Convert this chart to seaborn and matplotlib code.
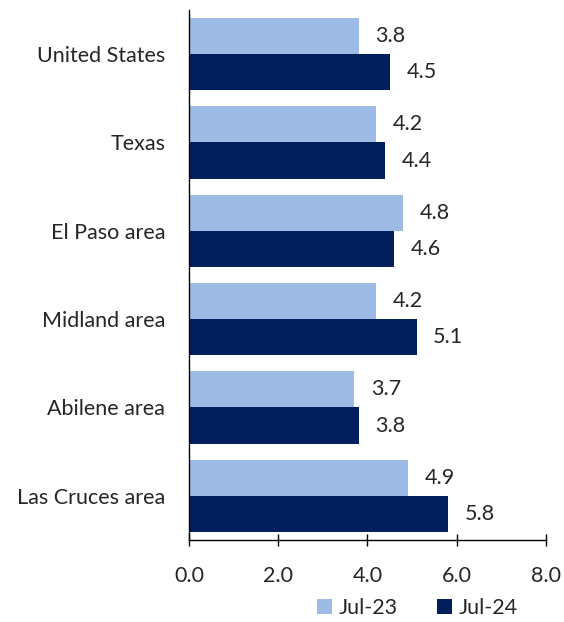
import pandas as pd
import matplotlib
matplotlib.use("Agg")
import matplotlib.pyplot as plt
import seaborn as sns

# data
regions = ["United States", "Texas", "El Paso area", "Midland area",
           "Abilene area", "Las Cruces area"]
jul23 = [3.8, 4.2, 4.8, 4.2, 3.7, 4.9]
jul24 = [4.5, 4.4, 4.6, 5.1, 3.8, 5.8]
periods = ["Jul-23", "Jul-24"]
colors = ["#9DBBE5", "#001F5C"]

df = pd.DataFrame({
    "Region": regions * 2,
    "Rate": jul23 + jul24,
    "Period": [periods[0]] * len(regions) + [periods[1]] * len(regions),
})

sns.set_style("white")
plt.rcParams["font.family"] = ["Lato", "DejaVu Sans"]
fs = 15.5

fig = plt.figure(figsize=(5.64, 6.22), dpi=100)
ax = fig.add_axes([0.335, 0.132, 0.633, 0.852])

sns.barplot(data=df, y="Region", x="Rate", hue="Period", order=regions,
            hue_order=periods, palette=colors, width=0.82, orient="h",
            saturation=1, linewidth=0, ax=ax)

for c in ax.containers:
    ax.bar_label(c, fmt="%.1f", padding=12, fontsize=fs)

ax.set_xlim(0, 8)
ax.set_xticks([0, 2, 4, 6, 8])
ax.set_xticklabels(["0.0", "2.0", "4.0", "6.0", "8.0"])
ax.set_xlabel("")
ax.set_ylabel("")
ax.tick_params(axis="x", direction="inout", length=9, width=1, color="black",
               labelsize=fs, pad=14, bottom=True)
ax.tick_params(axis="y", length=0, labelsize=fs, pad=17)
for s in ["top", "right"]:
    ax.spines[s].set_visible(False)
for s in ["left", "bottom"]:
    ax.spines[s].set_color("black")
    ax.spines[s].set_linewidth(1)

ax.legend(loc="upper center", bbox_to_anchor=(0.64, -0.074), ncol=2,
          frameon=False, fontsize=fs, handlelength=0.7, handleheight=0.7,
          columnspacing=1.8, handletextpad=0.3)

fig.savefig("out.png", dpi=100)
